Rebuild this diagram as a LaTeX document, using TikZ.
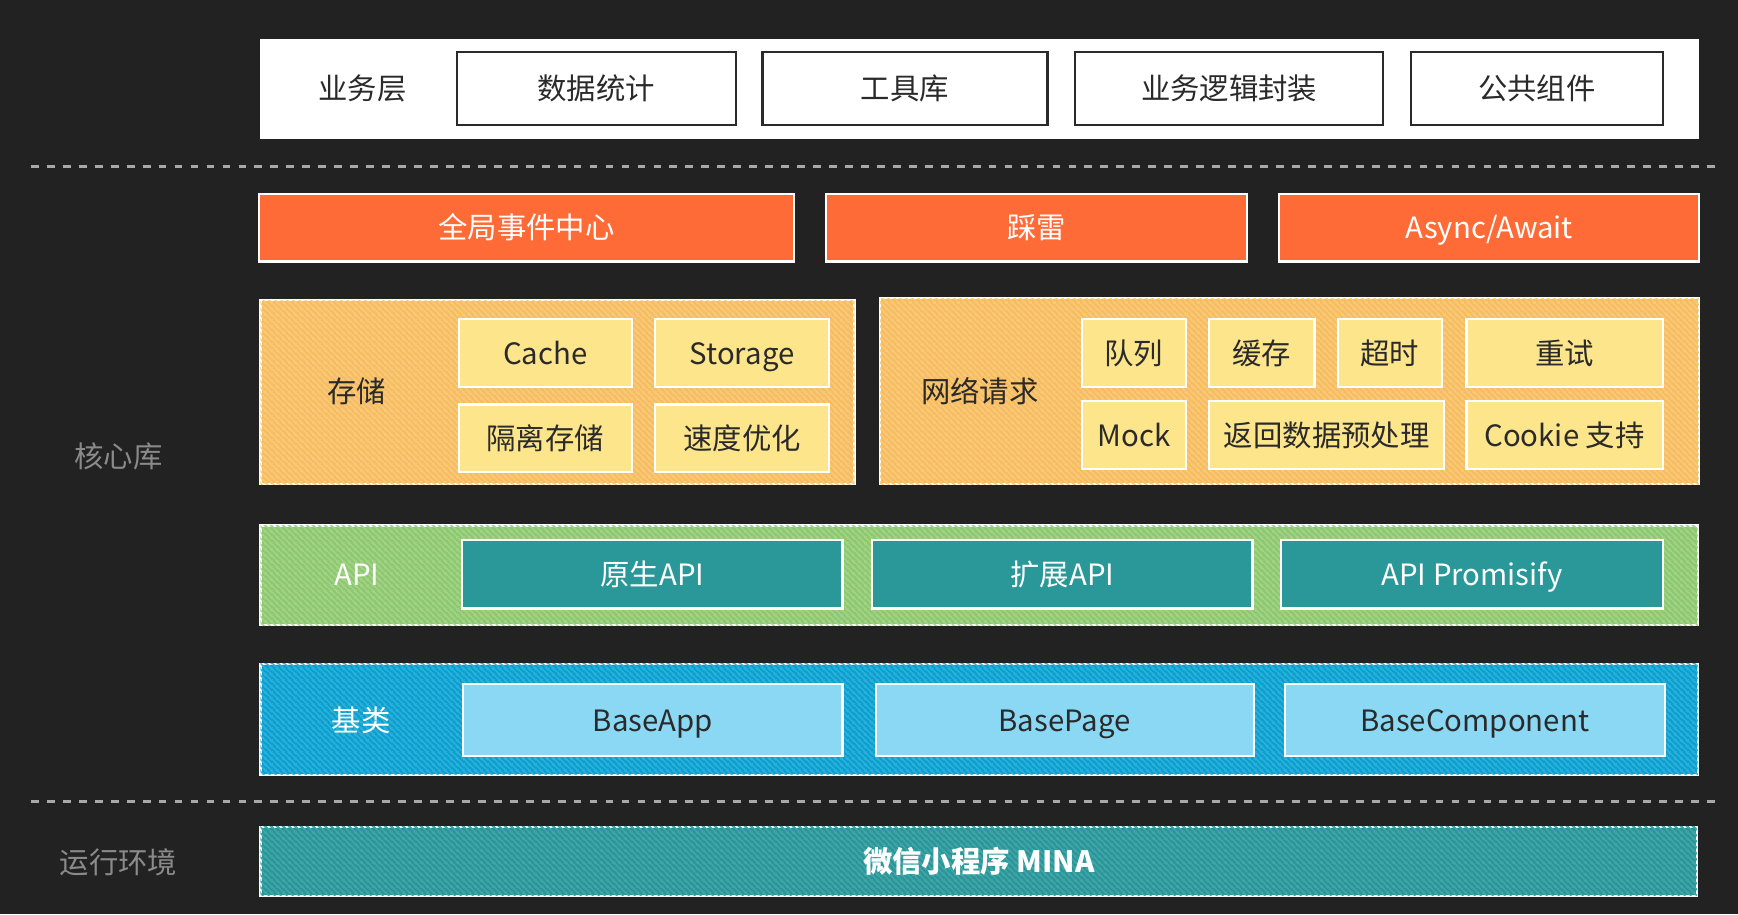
\documentclass[tikz,border=0pt]{standalone}
\usepackage{fontspec}
\setmainfont{Noto Sans CJK SC}
\usetikzlibrary{patterns.meta}
\definecolor{bg}{HTML}{222222}
\definecolor{dashc}{HTML}{A9A9A9}
\definecolor{labelc}{HTML}{8A8A8A}
\definecolor{darktxt}{HTML}{2A2A2A}
\definecolor{redor}{HTML}{FE6B37}
\definecolor{orbase}{HTML}{F6BC5F}
\definecolor{orstripe}{HTML}{F9CA7A}
\definecolor{yel}{HTML}{FDE58B}
\definecolor{grbase}{HTML}{8DC76F}
\definecolor{grstripe}{HTML}{A3D587}
\definecolor{tealbox}{HTML}{2A9799}
\definecolor{blbase}{HTML}{0A9FCE}
\definecolor{blstripe}{HTML}{2DB2DC}
\definecolor{lblue}{HTML}{8AD8F3}
\definecolor{tlbase}{HTML}{2A9496}
\definecolor{tlstripe}{HTML}{3FA7A9}
\tikzdeclarepattern{
  name=nwstripes,
  type=uncolored,
  bounding box={(0pt,0pt) and (5pt,5pt)},
  tile size={(5pt,5pt)},
  code={
    \pgfsetlinewidth{1.5pt}
    \draw (-1pt,6pt) -- (6pt,-1pt);
    \draw (-1pt,1pt) -- (1pt,-1pt);
    \draw (4pt,6pt) -- (6pt,4pt);
  }
}
\newcommand\bx[7]{\node[#6, minimum width={(#4-#2)*1pt}, minimum height={(#5-#3)*1pt}] (#1) at ({(#2+#4)/2},{(#3+#5)/2}) {#7};}
\tikzset{
  every node/.style={inner sep=0pt, outer sep=0pt, font=\fontsize{26.5}{31}\selectfont, text height=20pt, text depth=0pt},
  topbox/.style={draw=darktxt, line width=2pt, fill=white, text=darktxt},
  redbox/.style={draw=white, line width=2pt, fill=redor, text=white},
  orgroup/.style={draw=white, line width=2pt, fill=orbase, postaction={pattern={nwstripes}, pattern color=orstripe}},
  yelbox/.style={draw=white, line width=2pt, fill=yel, text=darktxt},
  grgroup/.style={draw=white, line width=2pt, fill=grbase, postaction={pattern={nwstripes}, pattern color=grstripe}},
  tealinner/.style={draw=white, line width=2pt, fill=tealbox, text=white},
  blgroup/.style={draw=white, line width=2pt, fill=blbase, postaction={pattern={nwstripes}, pattern color=blstripe}},
  lbbox/.style={draw=white, line width=2pt, fill=lblue, text=darktxt},
  tlgroup/.style={draw=white, line width=2pt, fill=tlbase, postaction={pattern={nwstripes}, pattern color=tlstripe}, text=white},
  sidelabel/.style={text=labelc},
  sep/.style={draw=dashc, line width=3pt, dash pattern=on 7pt off 7.4pt},
}
\begin{document}
\begin{tikzpicture}[x=1pt,y=-1pt]
\fill[bg] (0,0) rectangle (1568,825);
\useasboundingbox (0,0) rectangle (1568,825);
% business layer
\bx{biz}{235}{35}{1533}{125}{fill=white}{}
\node[text=darktxt] (bizlabel) at (327,80) {业务层};
\bx{stat}{412}{47}{664}{113}{topbox}{数据统计}
\bx{tool}{688}{47}{945}{113}{topbox}{工具库}
\bx{logic}{970}{47}{1248}{113}{topbox}{业务逻辑封装}
\bx{comp}{1273}{47}{1500}{113}{topbox}{公共组件}
% separators
\coordinate (s1a) at (28,150); \coordinate (s1b) at (1552,150);
\coordinate (s2a) at (28,723); \coordinate (s2b) at (1552,723);
\draw[sep] (s1a) -- (s1b);
\draw[sep] (s2a) -- (s2b);
% side labels
\node[sidelabel] (core) at (107,412) {核心库};
\node[sidelabel] (runtime) at (107,778) {运行环境};
% red row
\bx{event}{234}{175}{716}{236}{redbox}{全局事件中心}
\bx{mine}{745}{175}{1125}{236}{redbox}{踩雷}
\bx{async}{1154}{175}{1533}{236}{redbox}{Async/Await}
% storage group
\bx{storage}{235}{271}{771}{437}{orgroup}{}
\node[text=darktxt] (storlabel) at (322,353) {存储};
\bx{cache}{414}{288}{570}{349}{yelbox}{Cache}
\bx{stor}{591}{288}{748}{349}{yelbox}{Storage}
\bx{iso}{414}{365}{570}{426}{yelbox}{隔离存储}
\bx{speed}{591}{365}{748}{426}{yelbox}{速度优化}
% network group
\bx{net}{794}{269}{1533}{437}{orgroup}{}
\node[text=darktxt] (netlabel) at (884,353) {网络请求};
\bx{queue}{976}{288}{1070}{349}{yelbox}{队列}
\bx{ncache}{1091}{288}{1186}{349}{yelbox}{缓存}
\bx{timeout}{1207}{288}{1301}{349}{yelbox}{超时}
\bx{retry}{1323}{288}{1500}{349}{yelbox}{重试}
\bx{mock}{976}{362}{1070}{423}{yelbox}{Mock}
\bx{pre}{1091}{362}{1303}{423}{yelbox}{返回数据预处理}
\bx{cookie}{1323}{362}{1500}{423}{yelbox}{Cookie 支持}
% API group
\bx{api}{235}{474}{1532}{564}{grgroup}{}
\node[text=white] (apilabel) at (322,518) {API};
\bx{native}{417}{487}{760}{549}{tealinner}{原生API}
\bx{ext}{787}{487}{1130}{549}{tealinner}{扩展API}
\bx{prom}{1156}{487}{1500}{549}{tealinner}{API Promisify}
% base group
\bx{base}{235}{599}{1532}{699}{blgroup}{}
\node[text=white] (baselabel) at (326,650) {基类};
\bx{bapp}{418}{617}{760}{682}{lbbox}{BaseApp}
\bx{bpage}{790}{617}{1131}{682}{lbbox}{BasePage}
\bx{bcomp}{1159}{617}{1502}{682}{lbbox}{BaseComponent}
% runtime
\bx{mina}{235}{746}{1531}{808}{tlgroup}{\bfseries 微信小程序 MINA}
\end{tikzpicture}
\end{document}
